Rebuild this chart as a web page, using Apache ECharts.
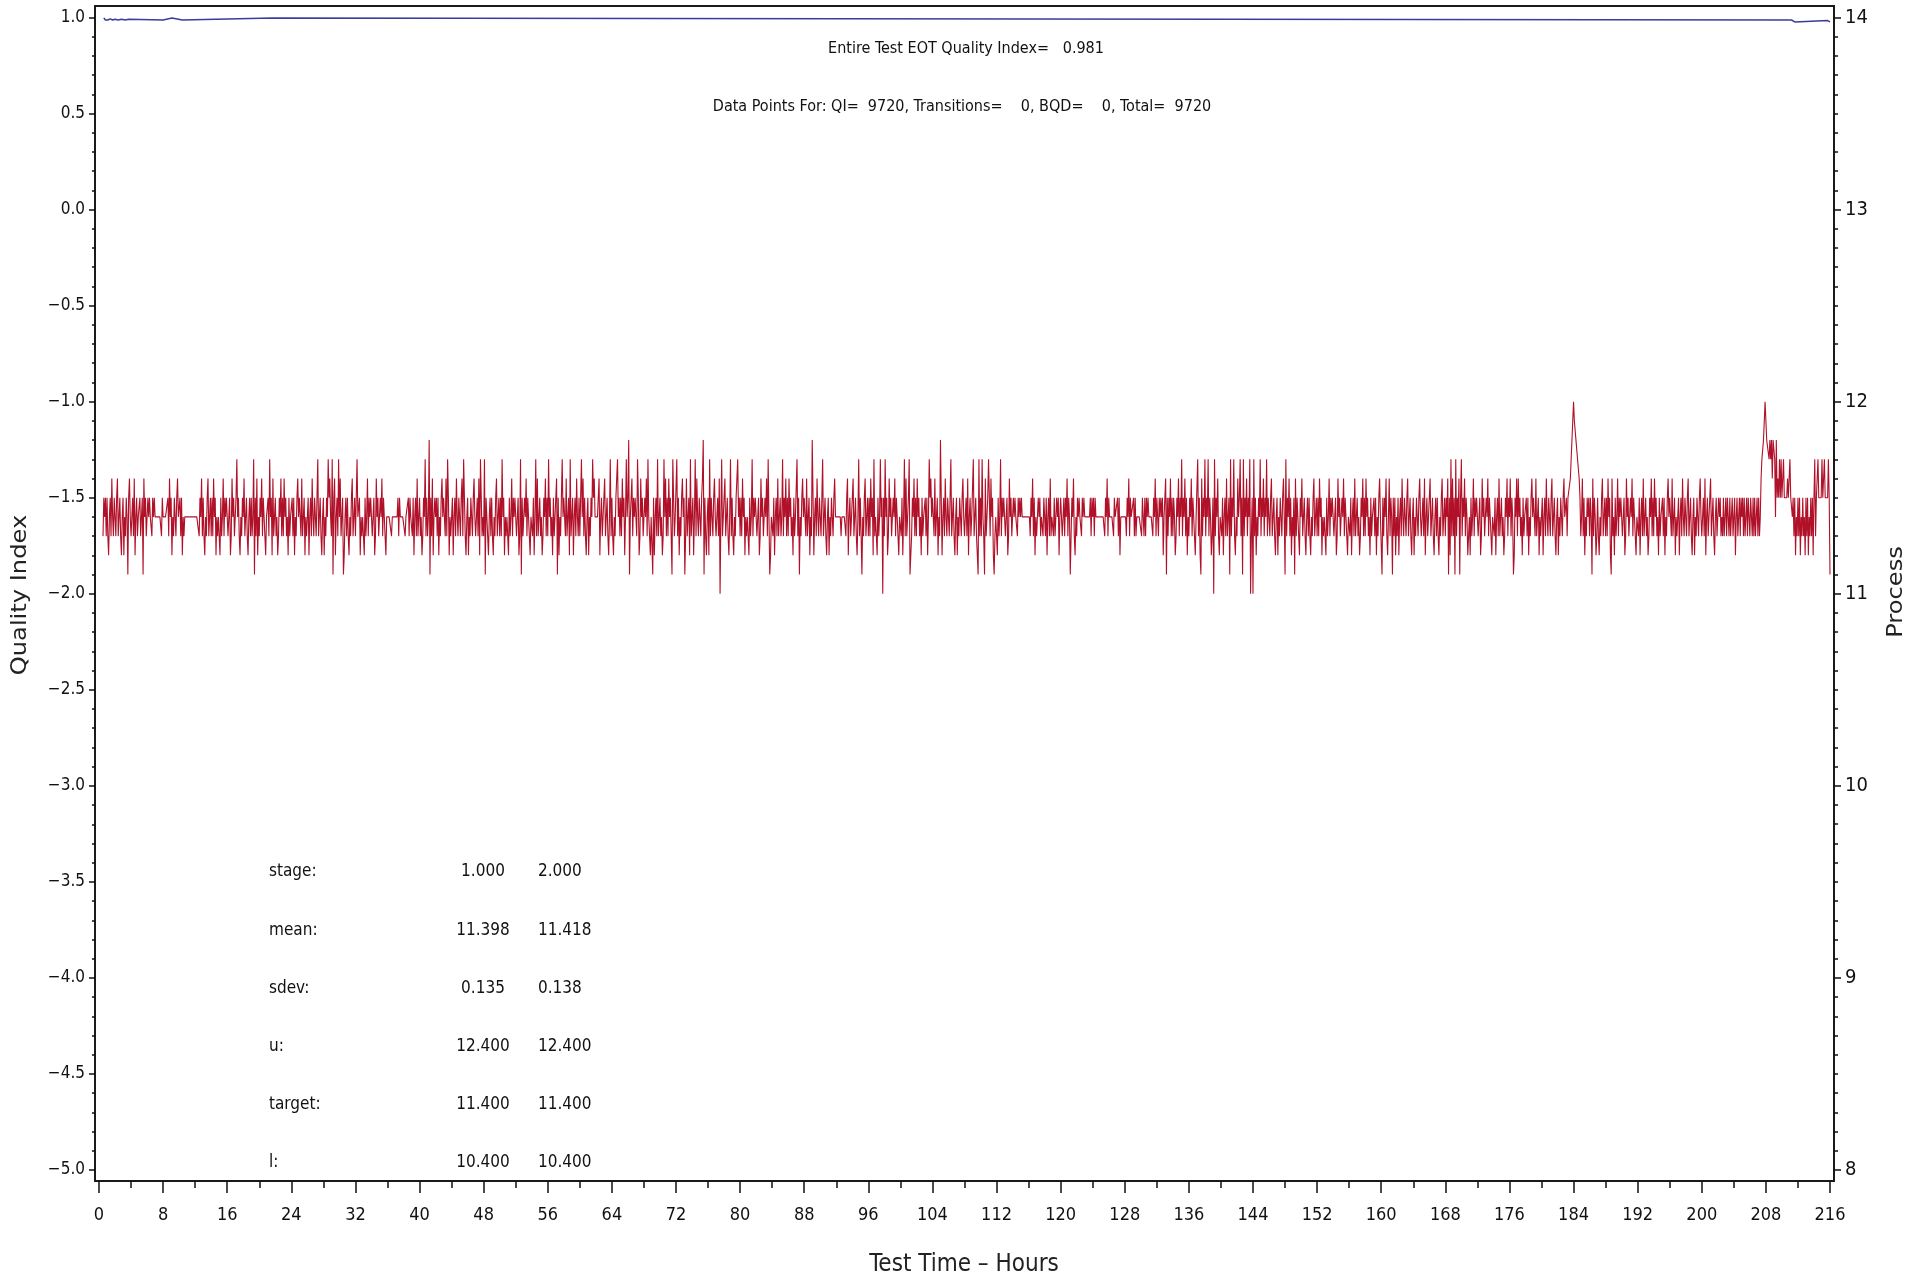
<!DOCTYPE html>
<html><head><meta charset="utf-8">
<script src="https://cdn.jsdelivr.net/npm/echarts@6/dist/echarts.min.js"></script>
<style>html,body{margin:0;padding:0;background:#fff}#c{width:1925px;height:1280px}</style>
</head><body><div id="c"></div>
<script>
// ---------- DATA ----------
// Process readings, one code per 0.1 h from 0.0 h; each group = one hour (10 readings).
// value = 11.0 + code/10 ('a' = 12.0, '-' = no reading)
const processStartHour = 0;
const processStepHours = 0.1;
const processCodes = [
  /*   0-7  */ "-----35453 5324536435 4356345324 5243541564 3453624534 4534516453 3545443545 4444444435",
  /*   8-15 */ "4444445364 5243543564 4535243444 4444444444 4444435463 5324356345 3536452434 4253463545",
  /*  16-23 */ "5345236453 3574532435 4634532453 5347153624 3546354324 4537452634 5342354635 3645342534",
  /*  24-31 */ "4535243564 5436345243 3524536435 4357345324 5243547564 3715624537 4634512453 5324356345",
  /*  32-39 */ "3574452434 4253463545 5345236453 3546354324 4444434444 4445354444 4434445354 4352453634",
  /*  40-47 */ "5342354735 3481536245 4535243564 5436375243 3524536435 4356375324 5243543564 3453627534",
  /*  48-55 */ "3715532453 5324356345 3537452434 4253463545 5345237153 3546354324 4352473634 5342354635",
  /*  56-63 */ "3745342534 4615243574 5436345273 3524536435 3574635324 5243547564 4444624534 4634532473",
  /*  64-71 */ "5324356745 3536452474 5814463545 5375236453 3546374324 4152453734 5342374635 3645317534",
  /*  72-79 */ "4735243564 5136345273 3524736435 4356815324 5273543564 3453604734 4634532473 5324356745",
  /*  80-87 */ "3536452434 4253473545 5345236453 3546374124 4352453634 5347354635 3645342534 4735143564",
  /*  88-95 */ "5436345243 8524536435 4357345324 5243543564 4444443444 4435624534 4634532473 5314356345",
  /*  96-103*/ "3536452734 4253474505 3745236453 3546354324 4352473634 5712354635 3645342534 4535247564",
  /* 104-111*/ "5436345243 8524536435 4357345324 5243543564 3453624534 4734532173 5374316345 7536452134",
  /* 112-119*/ "4253473545 5345236453 3545443545 4544444444 4435463524 3454534435 4352453634 4353454524",
  /* 120-127*/ "5434535463 5413546324 3545443545 4444444535 4535444444 4444435463 5444443544 4535244444",
  /* 128-135*/ "4435463544 4535344444 4354353545 4444435463 5435454524 4615354635 3542354635 4735463524",
  /* 136-143*/ "3546354324 4735216354 7354735423 5073546324 4352453634 5173547324 3645735173 5463547035",
  /* 144-151*/ "0735243547 3546354735 4356345324 5243543564 1735463524 3516354325 4634532453 5324356345",
  /* 152-159*/ "3536452434 4253463545 5345236453 3546354324 4352453634 5342354635 3645342534 4535243564",
  /* 160-167*/ "4153546324 6354153524 3524536435 4356345324 5243543564 3453624534 4634532453 5324356345",
  /* 168-175*/ "3546152736 3517354615 7354635423 4253463545 5345236453 3546354324 4352453634 5342354635",
  /* 176-183*/ "4635412546 3645342534 4535243564 5436345243 3524536435 4356345324 5243543564 4535556789",
  /* 184-191*/ "a998877653 4635243545 3541635423 5324356345 3536452163 4253463545 5345236453 3546354324",
  /* 192-199*/ "4352453634 5342354635 3645342534 4535243564 5436345243 3524536435 4356345324 5243543564",
  /* 200-207*/ "3453624534 4634532453 3545343534 5354353453 3524534535 4535345354 3543535345 353467789a",
  /* 208-215*/ "9888787868 8748565757 5575555655 7554535243 5352435342 5352435352 5735575555 7557555575",
  /* 216    */ "1"
];
// Cumulative quality index (step line)
const qiHours  = [0.6, 0.8, 1.1, 1.4, 1.7, 2.0, 2.4, 2.8, 3.3, 3.7, 8.0, 9.1, 10.4, 21.6, 211.2, 211.6, 215.7, 216.0];
const qiValues = [0.998, 0.987, 0.993, 0.987, 0.991, 0.987, 0.991, 0.987, 0.991, 0.987, 0.997, 0.987, 0.997, 0.987, 0.977, 0.984, 0.977, 0.977];

const headline = "Entire Test EOT Quality Index=   0.981";
const pointsLine = "Data Points For: QI=  9720, Transitions=    0, BQD=    0, Total=  9720";
const statLabels = ["stage:", "mean:", "sdev:", "u:", "target:", "l:"];
const stage1Vals = ["1.000", "11.398", "0.135", "12.400", "11.400", "10.400"];
const stage2Vals = ["2.000", "11.418", "0.138", "12.400", "11.400", "10.400"];

// ---------- BUILD ----------
const codeStr = processCodes.join("").replace(/\s+/g, "");
const processData = [];
for (let i = 0; i < codeStr.length; i++) {
  const c = codeStr[i];
  if (c === '-') continue;
  const code = c === 'a' ? 10 : parseInt(c, 10);
  processData.push([+(processStartHour + processStepHours * i).toFixed(2), +(11 + code / 10).toFixed(1)]);
}
const qiData = qiHours.map((h, i) => [h, qiValues[i]]);

const NARROW = "'Liberation Sans Narrow','DejaVu Sans Condensed','Arial Narrow',sans-serif";
const INK = '#111';

const graphics = [
  {type:'text', x:966, y:49, style:{text:headline, fontSize:16, fontFamily:NARROW, fill:INK, textAlign:'center', textVerticalAlign:'middle'}},
  {type:'text', x:962, y:107, style:{text:pointsLine, fontSize:16, fontFamily:NARROW, fill:INK, textAlign:'center', textVerticalAlign:'middle'}},
  {type:'text', x:20.5, y:595, rotation:Math.PI/2, scaleX:1.15, style:{text:'Quality Index', fontSize:21, fontFamily:"'DejaVu Sans',sans-serif", fill:'#222', textAlign:'center', textVerticalAlign:'middle'}},
  {type:'text', x:1897, y:592, rotation:Math.PI/2, scaleX:1.15, style:{text:'Process', fontSize:21, fontFamily:"'DejaVu Sans',sans-serif", fill:'#222', textAlign:'center', textVerticalAlign:'middle'}},
  {type:'text', x:964, y:1265, style:{text:'Test Time – Hours', fontSize:24, fontFamily:NARROW, fill:'#222', textAlign:'center', textVerticalAlign:'middle'}}
];
statLabels.forEach((lab, i) => {
  const y = 872 + 58.2 * i;
  graphics.push({type:'text', x:269, y:y, style:{text:lab, fontSize:17, fontFamily:NARROW, fill:INK, textAlign:'left', textVerticalAlign:'middle'}});
  graphics.push({type:'text', x:483, y:y, style:{text:stage1Vals[i], fontSize:17, fontFamily:NARROW, fill:INK, textAlign:'center', textVerticalAlign:'middle'}});
  graphics.push({type:'text', x:538, y:y, style:{text:stage2Vals[i], fontSize:17, fontFamily:NARROW, fill:INK, textAlign:'left', textVerticalAlign:'middle'}});
});

const tickStyle = {color:INK, width:1.5};
const option = {
  animation: false,
  backgroundColor: '#fff',
  grid: [
    {left:99, top:17.5, width:1731, height:1152.5, show:false},
    {left:95, top:6, width:1739, height:1175, show:true, borderColor:'#1a1a1a', borderWidth:2, backgroundColor:'transparent'}
  ],
  xAxis: [
    {type:'value', gridIndex:0, position:'bottom', min:0, max:216, interval:8, offset:11,
     axisLine:{show:false, onZero:false},
     axisTick:{show:true, length:12, lineStyle:tickStyle},
     minorTick:{show:true, splitNumber:2, length:7, lineStyle:tickStyle},
     axisLabel:{margin:25, fontSize:18, color:INK, fontFamily:NARROW},
     splitLine:{show:false}, minorSplitLine:{show:false}},
    {type:'value', gridIndex:1, show:false, min:0, max:1}
  ],
  yAxis: [
    {type:'value', gridIndex:0, position:'left', min:-5, max:1, interval:0.5, offset:4,
     axisLine:{show:false, onZero:false},
     axisTick:{show:true, length:6, lineStyle:tickStyle},
     minorTick:{show:true, splitNumber:5, length:3, lineStyle:tickStyle},
     axisLabel:{margin:10, fontSize:17, color:INK, fontFamily:NARROW, formatter:v => v.toFixed(1).replace('-', '\u2212')},
     splitLine:{show:false}, minorSplitLine:{show:false}},
    {type:'value', gridIndex:0, position:'right', min:8, max:14, interval:1, offset:4,
     axisLine:{show:false, onZero:false},
     axisTick:{show:true, length:7, lineStyle:tickStyle},
     minorTick:{show:true, splitNumber:10, length:4, lineStyle:tickStyle},
     axisLabel:{margin:11, fontSize:20, color:INK, fontFamily:NARROW},
     splitLine:{show:false}, minorSplitLine:{show:false}},
    {type:'value', gridIndex:1, show:false, min:0, max:1}
  ],
  series: [
    {name:'Process', type:'line', xAxisIndex:0, yAxisIndex:1, data:processData, showSymbol:false, symbol:'none',
     lineStyle:{color:'#b01028', width:1.1}, silent:true, sampling:null, z:3},
    {name:'Quality Index', type:'line', xAxisIndex:0, yAxisIndex:0, data:qiData, step:'end', showSymbol:false, symbol:'none',
     lineStyle:{color:'#3c3c9c', width:1.5}, silent:true, z:4}
  ],
  graphic: graphics
};
const chart = echarts.init(document.getElementById('c'), null, {renderer:'canvas'});
chart.setOption(option);
</script>
</body></html>
